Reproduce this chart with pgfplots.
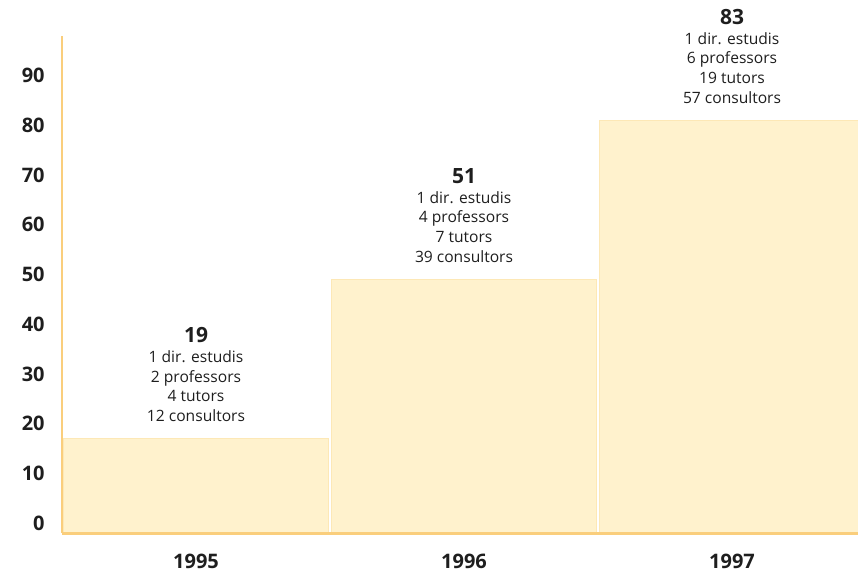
\documentclass[border=0pt]{standalone}
\usepackage{fontspec}
\setmainfont{Open Sans}
\usepackage{pgfplots}
\pgfplotsset{compat=1.18}
\definecolor{barfill}{RGB}{255,242,205}
\definecolor{baredge}{RGB}{253,232,182}
\definecolor{axisor}{RGB}{250,206,124}
\definecolor{txt}{RGB}{30,30,30}
\begin{document}
\begin{tikzpicture}
\begin{axis}[
 at={(0,0)}, anchor=south west, scale only axis,
 width=398pt, height=248.5pt,
 xmin=-0.5, xmax=2.47, ymin=0, ymax=100,
 axis x line*=bottom, axis y line*=left,
 x axis line style={axisor, line width=1.5pt, -},
 y axis line style={axisor, line width=1.2pt, -},
 xtick={0,1,2}, xticklabels={1995,1996,1997},
 ytick={0,10,...,90},
 major tick length=0pt,
 tick label style={font=\fontsize{10}{12}\selectfont\bfseries, text=txt, inner sep=0pt},
 yticklabel style={anchor=east, xshift=-8.5pt, yshift=5pt},
 xticklabel style={anchor=north, yshift=-10.5pt},
 /pgf/number format/assume math mode=true,
 clip mode=individual,
 axis on top=true,
]
\addplot[ybar, bar width=132.5pt, fill=barfill, draw=baredge, line width=0.5pt]
  coordinates {(0,19) (1,51) (2,83)};
\node[anchor=south, align=center, font=\fontsize{7.8}{9.85}\selectfont, text=txt, inner sep=0pt, yshift=8.3pt]
  at (axis cs:0,19) {{\fontsize{10.5}{12}\selectfont\bfseries 19}\\1 dir. estudis\\2 professors\\4 tutors\\12 consultors};
\node[anchor=south, align=center, font=\fontsize{7.8}{9.85}\selectfont, text=txt, inner sep=0pt, yshift=8.3pt]
  at (axis cs:1,51) {{\fontsize{10.5}{12}\selectfont\bfseries 51}\\1 dir. estudis\\4 professors\\7 tutors\\39 consultors};
\node[anchor=south, align=center, font=\fontsize{7.8}{9.85}\selectfont, text=txt, inner sep=0pt, yshift=8.3pt]
  at (axis cs:2,83) {{\fontsize{10.5}{12}\selectfont\bfseries 83}\\1 dir. estudis\\6 professors\\19 tutors\\57 consultors};
\end{axis}
\pgfresetboundingbox
\path (-31pt,-23.5pt) rectangle (398pt,266.5pt);
\end{tikzpicture}
\end{document}
